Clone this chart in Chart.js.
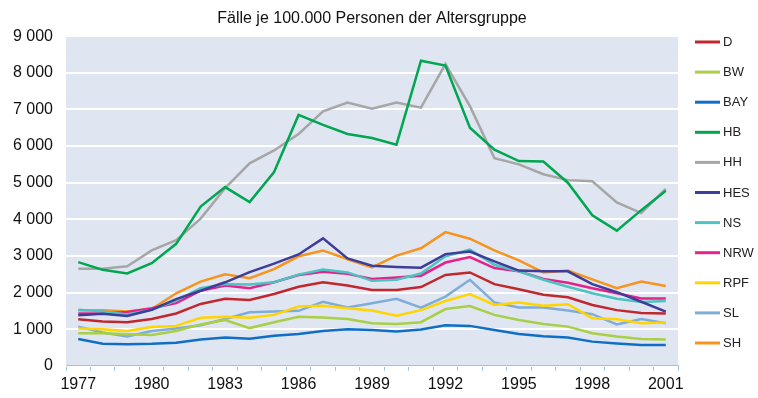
<!DOCTYPE html>
<html lang="de">
<head>
<meta charset="utf-8">
<title>Fälle je 100.000 Personen der Altersgruppe</title>
<script src="https://cdn.jsdelivr.net/npm/chart.js@4.4.0/dist/chart.umd.min.js"></script>
<style>
  html, body { margin: 0; padding: 0; background: #fff; }
  #wrap { width: 758px; height: 398px; }
</style>
</head>
<body>
<div id="wrap"><canvas id="chart" width="758" height="398"></canvas></div>
<script>
// Jahre (x-Achse)
const years = ['1977', '1978', '1979', '1980', '1981', '1982', '1983', '1984', '1985', '1986', '1987', '1988', '1989',
               '1990', '1991', '1992', '1993', '1994', '1995', '1996', '1997', '1998', '1999', '2000', '2001'];

// Fälle je 100.000 Personen, pro Land
const D   = [1270, 1210, 1190, 1280, 1430, 1690, 1830, 1800, 1960, 2160, 2280, 2190, 2070, 2070, 2150, 2480, 2550, 2230, 2090, 1940, 1870, 1660, 1520, 1440, 1430];
const BW  = [890, 890, 860, 840, 950, 1130, 1250, 1030, 1190, 1340, 1320, 1280, 1160, 1140, 1190, 1550, 1630, 1390, 1250, 1140, 1070, 890, 800, 730, 720];
const BAY = [730, 600, 590, 600, 630, 720, 770, 740, 820, 870, 950, 1000, 980, 940, 990, 1110, 1090, 980, 870, 810, 770, 660, 610, 570, 570];
const HB  = [2830, 2620, 2520, 2800, 3330, 4350, 4880, 4470, 5290, 6850, 6580, 6330, 6220, 6040, 8330, 8200, 6500, 5900, 5590, 5580, 5000, 4110, 3690, 4250, 4780];
const HH  = [2650, 2650, 2720, 3150, 3430, 4020, 4850, 5530, 5880, 6330, 6950, 7190, 7020, 7190, 7050, 8240, 7090, 5670, 5500, 5230, 5070, 5040, 4460, 4170, 4830];
const HES = [1380, 1420, 1360, 1530, 1820, 2050, 2280, 2560, 2790, 3040, 3480, 2930, 2730, 2700, 2680, 3050, 3120, 2850, 2600, 2580, 2580, 2230, 2010, 1750, 1480];
const NS  = [1530, 1480, 1400, 1530, 1780, 2120, 2230, 2220, 2280, 2490, 2630, 2550, 2320, 2350, 2520, 2990, 3170, 2760, 2580, 2350, 2160, 1980, 1830, 1740, 1770];
const NRW = [1430, 1430, 1470, 1570, 1710, 2050, 2190, 2120, 2280, 2480, 2570, 2510, 2370, 2410, 2460, 2820, 2970, 2670, 2580, 2370, 2270, 2120, 1980, 1840, 1840];
const RPF = [1020, 1000, 950, 1060, 1090, 1310, 1340, 1310, 1390, 1620, 1640, 1570, 1510, 1370, 1520, 1770, 1960, 1660, 1730, 1640, 1680, 1300, 1270, 1160, 1180];
const SL  = [1070, 910, 800, 950, 1020, 1110, 1280, 1460, 1480, 1500, 1750, 1590, 1710, 1830, 1590, 1890, 2350, 1730, 1590, 1590, 1510, 1410, 1130, 1280, 1160];
const SH  = [1520, 1520, 1480, 1550, 1980, 2300, 2500, 2390, 2640, 2990, 3150, 2910, 2690, 3010, 3210, 3650, 3470, 3150, 2880, 2550, 2600, 2360, 2120, 2300, 2180];

const seriesNames = ['D', 'BW', 'BAY', 'HB', 'HH', 'HES', 'NS', 'NRW', 'RPF', 'SL', 'SH'];
const seriesValues = [D, BW, BAY, HB, HH, HES, NS, NRW, RPF, SL, SH];
const seriesColors = ['#C1272D', '#A8CF45', '#0F6FC6', '#00A650', '#A6A6A6', '#3F3D99',
                      '#4CC3C0', '#E5228A', '#FFD400', '#7FADDA', '#F7941E'];

// y-Achse 0 .. 9 000
const yMin = 0, yMax = 9000, yStep = 1000;

const FONT = 'Arial, "Liberation Sans", Helvetica, sans-serif';

// Tausender mit Leerzeichen: 9000 -> "9 000"
const fmt = v => String(v).replace(/\B(?=(\d{3})+(?!\d))/g, ' ');

// hellblauer Hintergrund der Zeichenfläche
const plotBackground = {
    id: 'plotBackground',
    beforeDraw(chart) {
        const { ctx, chartArea: a } = chart;
        ctx.save();
        ctx.fillStyle = '#DFE6F2';
        ctx.fillRect(a.left, a.top, a.right - a.left, a.bottom - a.top);
        ctx.restore();
    }
};

// Legende rechts: kurze Linie + Kürzel
const sideLegend = {
    id: 'sideLegend',
    afterDraw(chart) {
        const { ctx } = chart;
        const x0 = 695, lineLen = 25, y0 = 42, gap = 30.1;
        ctx.save();
        ctx.font = '13px ' + FONT;
        ctx.textBaseline = 'middle';
        ctx.textAlign = 'left';
        chart.data.datasets.forEach((ds, i) => {
            const y = y0 + i * gap;
            ctx.strokeStyle = ds.borderColor;
            ctx.lineWidth = 3;
            ctx.beginPath();
            ctx.moveTo(x0, y);
            ctx.lineTo(x0 + lineLen, y);
            ctx.stroke();
            ctx.fillStyle = '#222';
            ctx.fillText(ds.label, x0 + lineLen + 3, y + 0.5);
        });
        ctx.restore();
    }
};

const datasets = seriesNames.map((name, i) => ({
    label: name,
    data: seriesValues[i],
    borderColor: seriesColors[i],
    backgroundColor: seriesColors[i],
    borderWidth: 2.5,
    pointRadius: 0,
    tension: 0,
    fill: false
}));

new Chart(document.getElementById('chart'), {
    type: 'line',
    data: { labels: years, datasets },
    plugins: [plotBackground, sideLegend],
    options: {
        responsive: false,
        animation: false,
        layout: { padding: { left: 10, right: 80, top: 0, bottom: 0 } },
        plugins: {
            legend: { display: false },
            tooltip: { enabled: false },
            title: {
                display: true,
                fullSize: false,
                text: 'Fälle je 100.000 Personen der Altersgruppe',
                color: '#111',
                font: { family: FONT, size: 16, weight: 'normal' },
                padding: { top: 9, bottom: 8 }
            }
        },
        scales: {
            x: {
                offset: true,
                grid: {
                    offset: true,
                    drawOnChartArea: false,
                    drawTicks: true,
                    tickLength: 5,
                    tickColor: '#9CC2E5',
                    tickWidth: 1
                },
                border: { display: true, color: '#9CC2E5', width: 1 },
                ticks: {
                    autoSkip: false,
                    maxRotation: 0,
                    padding: 4,
                    color: '#111',
                    font: { family: FONT, size: 16 },
                    callback: function (val, idx) {
                        return idx % 3 === 0 ? this.getLabelForValue(val) : '';
                    }
                }
            },
            y: {
                min: yMin,
                max: yMax,
                afterFit: scale => { scale.width = 56; },
                grid: { color: '#FFFFFF', lineWidth: 2, drawTicks: false },
                border: { display: false },
                ticks: {
                    stepSize: yStep,
                    padding: 13,
                    color: '#111',
                    font: { family: FONT, size: 16 },
                    callback: v => fmt(v)
                }
            }
        }
    }
});
</script>
</body>
</html>
